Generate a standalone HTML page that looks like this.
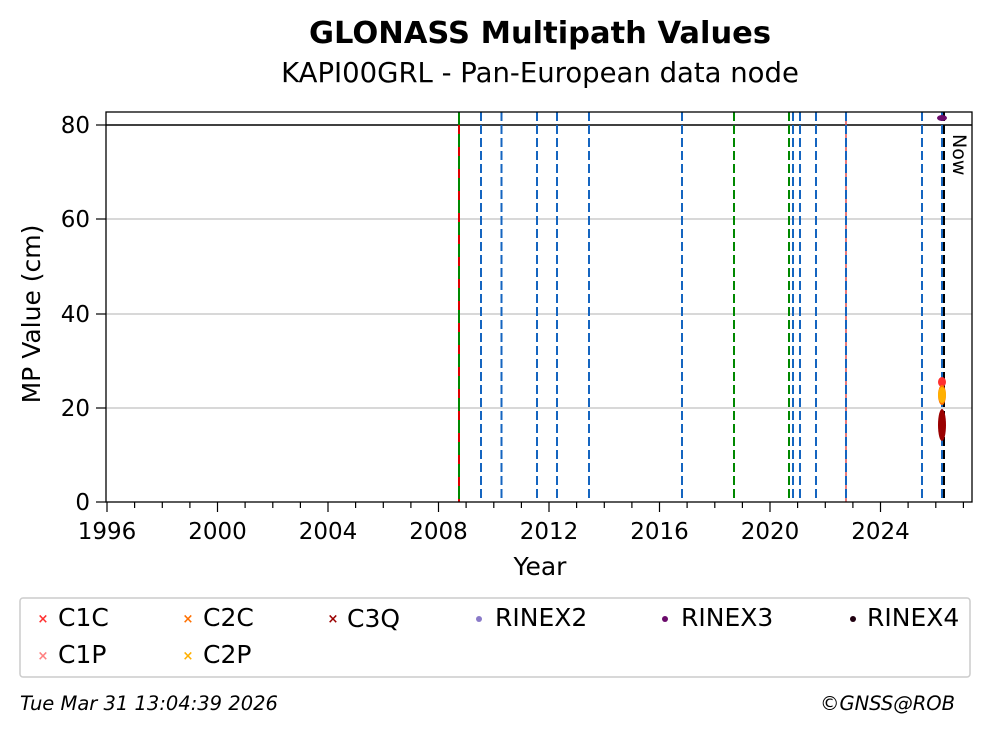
<!DOCTYPE html><html><head><style>body{margin:0;background:#fff}</style></head><body>
<svg width="993" height="734" xmlns="http://www.w3.org/2000/svg" font-family="DejaVu Sans, Liberation Sans, sans-serif">
<text x="540" y="43" font-size="30.5" font-weight="bold" text-anchor="middle">GLONASS Multipath Values</text>
<text x="540" y="82" font-size="27.5" text-anchor="middle">KAPI00GRL - Pan-European data node</text>
<g stroke="#b0b0b0" stroke-width="1">
<line x1="106" y1="219" x2="972" y2="219"/><line x1="106" y1="314" x2="972" y2="314"/><line x1="106" y1="408" x2="972" y2="408"/></g>
<line x1="106" y1="125" x2="972" y2="125" stroke="#000" stroke-width="1.5"/>
<g stroke-width="2" stroke-dasharray="9,4" fill="none">
<line x1="459" y1="112" x2="459" y2="502" stroke="#d00" stroke-dasharray="none"/>
<line x1="459" y1="112" x2="459" y2="502" stroke="#080" stroke-dasharray="13,9"/>
<g stroke="#1565c0">
<line x1="481" y1="112" x2="481" y2="502"/><line x1="501.5" y1="112" x2="501.5" y2="502"/><line x1="537" y1="112" x2="537" y2="502"/><line x1="557" y1="112" x2="557" y2="502"/><line x1="589" y1="112" x2="589" y2="502"/><line x1="682" y1="112" x2="682" y2="502"/><line x1="793" y1="112" x2="793" y2="502"/><line x1="800" y1="112" x2="800" y2="502"/><line x1="816" y1="112" x2="816" y2="502"/><line x1="922" y1="112" x2="922" y2="502"/></g>
<line x1="734" y1="112" x2="734" y2="502" stroke="#080"/><line x1="789" y1="112" x2="789" y2="502" stroke="#080"/>
<line x1="846" y1="112" x2="846" y2="502" stroke="#e05050" stroke-dasharray="none" stroke-width="1.5"/>
<line x1="846" y1="112" x2="846" y2="502" stroke="#1565c0"/>
<line x1="942" y1="112" x2="942" y2="502" stroke="#1565c0"/>
<line x1="944" y1="112" x2="944" y2="502" stroke="#000"/>
</g>
<text transform="translate(953,134) rotate(90)" font-size="19">Now</text>
<g>
<ellipse cx="942" cy="118" rx="5" ry="3" fill="#6a0a6a"/>
<ellipse cx="942" cy="382" rx="4" ry="5" fill="#ff3030"/>
<ellipse cx="942" cy="395" rx="4" ry="10" fill="#ff7000"/>
<ellipse cx="942" cy="395" rx="4" ry="8" fill="#ffb000"/>
<ellipse cx="942" cy="425" rx="4" ry="16" fill="#9a0000"/>
</g>
<rect x="106" y="112" width="866" height="390" fill="none" stroke="#000" stroke-width="1.3"/>
<g font-size="23" text-anchor="end">
<text x="90" y="510">0</text><text x="90" y="416">20</text><text x="90" y="322">40</text><text x="90" y="227">60</text><text x="90" y="133">80</text></g>
<g stroke="#000" stroke-width="1.2"><line x1="96" y1="502" x2="106" y2="502"/><line x1="96" y1="408" x2="106" y2="408"/><line x1="96" y1="314" x2="106" y2="314"/><line x1="96" y1="219" x2="106" y2="219"/><line x1="96" y1="125" x2="106" y2="125"/>
<path d="M107 502v10M134.6 502v6M162.3 502v6M189.9 502v6M217.5 502v10M245.1 502v6M272.8 502v6M300.4 502v6M328 502v10M355.6 502v6M383.3 502v6M410.9 502v6M438.5 502v10M466.1 502v6M493.8 502v6M521.4 502v6M549 502v10M576.6 502v6M604.3 502v6M631.9 502v6M659.5 502v10M687.1 502v6M714.8 502v6M742.4 502v6M770 502v10M797.6 502v6M825.3 502v6M852.9 502v6M880.5 502v10M908.1 502v6M935.8 502v6M963.4 502v6"/></g>
<text transform="translate(40,314) rotate(-90)" font-size="25" text-anchor="middle">MP Value (cm)</text>
<g font-size="23" text-anchor="middle">
<text x="107" y="539">1996</text><text x="217.5" y="539">2000</text><text x="328" y="539">2004</text><text x="438.5" y="539">2008</text><text x="549" y="539">2012</text><text x="659.5" y="539">2016</text><text x="770" y="539">2020</text><text x="880.5" y="539">2024</text></g>
<text x="540" y="575" font-size="25" text-anchor="middle">Year</text>
<rect x="20" y="598" width="950" height="79" rx="3" fill="#fff" stroke="#ccc" stroke-width="1.5"/>
<g font-size="25">
<text x="58" y="626">C1C</text><text x="203" y="626">C2C</text><text x="347" y="627">C3Q</text><text x="495" y="626">RINEX2</text><text x="681" y="626">RINEX3</text><text x="867" y="626">RINEX4</text>
<text x="58" y="663">C1P</text><text x="203" y="663">C2P</text></g>
<g font-size="13" text-anchor="middle" font-weight="bold">
<text x="43" y="623" fill="#ff3030">×</text><text x="188" y="623" fill="#ff7000">×</text><text x="333" y="623" fill="#9a0000">×</text>
<text x="43" y="660" fill="#ff8080">×</text><text x="188" y="660" fill="#ffb000">×</text></g>
<circle cx="479" cy="619" r="3" fill="#8a7ac8"/><circle cx="665" cy="619" r="3" fill="#6a0a6a"/><circle cx="853" cy="619" r="3" fill="#200010"/>
<text x="20" y="710" font-size="19.5" font-style="italic">Tue Mar 31 13:04:39 2026</text>
<text x="955" y="710" font-size="19.5" font-style="italic" text-anchor="end">©GNSS@ROB</text>
</svg></body></html>
